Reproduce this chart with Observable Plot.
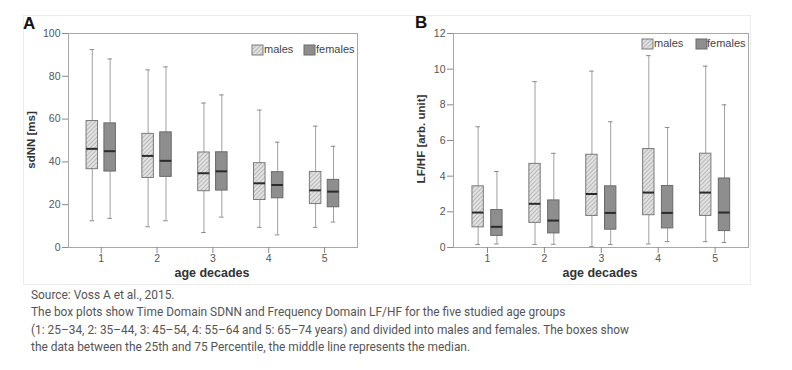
<!DOCTYPE html>
<html><head><meta charset="utf-8">
<script src="https://cdn.jsdelivr.net/npm/d3@7"></script>
<script src="https://cdn.jsdelivr.net/npm/@observablehq/plot@0.6"></script>
<style>
body{margin:0;background:#fff;}
#wrap{position:relative;width:792px;height:370px;overflow:hidden;font-family:"Liberation Sans",Arial,sans-serif;}
#fig{position:absolute;left:23px;top:15px;width:728px;height:270px;border:1px solid #ececec;box-sizing:border-box;}
.panel{position:absolute;top:15px;}
.letter{position:absolute;font-weight:bold;font-size:17px;line-height:17px;color:#111;}
#caption{position:absolute;left:31px;top:287px;font-family:Roboto,sans-serif;font-size:11.9px;line-height:17.3px;color:#555;white-space:nowrap;}
</style></head>
<body><div id="wrap">
<div id="fig"></div>
<div id="panelA" class="panel" style="left:23px"></div>
<div id="panelB" class="panel" style="left:408px"></div>
<div class="letter" style="left:23px;top:15px">A</div>
<div class="letter" style="left:415px;top:14px">B</div>
<div id="caption">Source: Voss A et al., 2015.<br>The box plots show Time Domain SDNN and Frequency Domain LF/HF for the five studied age groups<br>(1: 25–34, 2: 35–44, 3: 45–54, 4: 55–64 and 5: 65–74 years) and divided into males and females. The boxes show<br>the data between the 25th and 75 Percentile, the middle line represents the median.</div>
</div>
<script>
// age decades
const groups = [1, 2, 3, 4, 5];
const sexes = ["males", "females"];
// five-number summaries per group: [lower whisker, Q1, median, Q3, upper whisker]
const sdnnMales   = [[12.5,36.6,46.1,59.1,92.5],[9.7,32.5,42.8,53.1,83.0],[7.0,26.3,34.7,44.4,67.5],[9.4,22.2,30.0,39.4,64.2],[9.4,20.3,26.7,35.3,56.7]];
const sdnnFemales = [[13.6,35.5,45.0,58.0,88.1],[12.5,33.0,40.5,53.8,84.4],[14.2,26.6,35.6,44.5,71.3],[5.9,23.0,29.2,35.2,49.2],[11.9,18.8,26.1,31.6,47.3]];
const lfhfMales   = [[0.17,1.13,1.96,3.43,6.77],[0.17,1.38,2.45,4.69,9.30],[0.05,1.77,3.00,5.20,9.89],[0.20,1.81,3.08,5.52,10.76],[0.33,1.77,3.08,5.26,10.17]];
const lfhfFemales = [[0.20,0.65,1.16,2.10,4.26],[0.18,0.79,1.51,2.64,5.28],[0.17,1.00,1.94,3.43,7.05],[0.33,1.07,1.94,3.45,6.73],[0.28,0.92,1.96,3.87,8.00]];
const yTicksA = [0, 20, 40, 60, 80, 100];
const yTicksB = [0, 2, 4, 6, 8, 10, 12];

function rowsOf(males, females, off) {
  const out = [];
  [males, females].forEach((arr, si) => {
    arr.forEach((s, i) => {
      out.push({g: groups[i], sex: sexes[si], xc: groups[i] + (si === 0 ? -off : off),
        min: s[0], q1: s[1], med: s[2], q3: s[3], max: s[4]});
    });
  });
  return out;
}

const FONT = '"Liberation Sans", Arial, sans-serif';

function makePanel(cfg) {
  const rows = rowsOf(cfg.males, cfg.females, cfg.off);
  const hw = cfg.boxW / 2, cw = 0.04;
  const males = rows.filter(d => d.sex === "males");
  const females = rows.filter(d => d.sex === "females");
  const plot = Plot.plot({
    width: cfg.width, height: 268,
    marginLeft: 45, marginRight: cfg.marginRight, marginTop: 18, marginBottom: 36,
    style: {fontFamily: FONT, fontSize: "10.5px", color: "#555", background: "transparent"},
    x: {domain: cfg.xDomain, axis: null},
    y: {domain: cfg.yDomain, axis: null},
    marks: [
      Plot.ruleX(rows, {x: "xc", y1: "min", y2: "max", stroke: "#a0a0a0", strokeWidth: 1}),
      Plot.ruleY(rows, {y: "max", x1: d => d.xc - cw, x2: d => d.xc + cw, stroke: "#8a8a8a"}),
      Plot.ruleY(rows, {y: "min", x1: d => d.xc - cw, x2: d => d.xc + cw, stroke: "#8a8a8a"}),
      Plot.rect(males, {x1: d => d.xc - hw, x2: d => d.xc + hw, y1: "q1", y2: "q3", fill: `url(#${cfg.id}hatch)`, stroke: "#7a7a7a", strokeWidth: 1}),
      Plot.rect(females, {x1: d => d.xc - hw, x2: d => d.xc + hw, y1: "q1", y2: "q3", fill: "#8e8e8e", stroke: "#6a6a6a", strokeWidth: 1}),
      Plot.ruleY(rows, {y: "med", x1: d => d.xc - hw, x2: d => d.xc + hw, stroke: "#2b2b2b", strokeWidth: 2}),
      Plot.frame({stroke: "#a8a8a8"}),
      Plot.axisY({ticks: cfg.yTicks, tickSize: 6, tickPadding: 2, stroke: "#8a8a8a", fill: "#555", label: null}),
      Plot.axisX({ticks: groups, tickFormat: d3.format("d"), tickSize: 6, tickPadding: 1, stroke: "#8a8a8a", fill: "#555", label: null})
    ]
  });
  const svg = d3.select(plot);
  const defs = svg.insert("defs", ":first-child");
  const pat = defs.append("pattern").attr("id", cfg.id + "hatch").attr("patternUnits", "userSpaceOnUse")
    .attr("width", 3).attr("height", 3).attr("patternTransform", "rotate(45)");
  pat.append("rect").attr("width", 3).attr("height", 3).attr("fill", "#e2e2e2");
  pat.append("line").attr("x1", 0).attr("y1", 0).attr("x2", 0).attr("y2", 3).attr("stroke", "#9c9c9c").attr("stroke-width", 1.2);

  // axis titles
  svg.append("text").attr("transform", `translate(${cfg.yTitle[0]},${cfg.yTitle[1]}) rotate(-90)`)
    .attr("text-anchor", "middle").attr("dominant-baseline", "middle")
    .attr("font-weight", "bold").attr("font-size", 11.5).attr("fill", "#333").attr("font-family", FONT)
    .text(cfg.yLabel);
  svg.append("text").attr("x", cfg.xTitle[0]).attr("y", cfg.xTitle[1])
    .attr("text-anchor", "middle").attr("dominant-baseline", "middle")
    .attr("font-weight", "bold").attr("font-size", 12.5).attr("fill", "#333").attr("font-family", FONT)
    .text("age decades");

  // legend
  const lg = svg.append("g").attr("font-family", FONT).attr("font-size", 11).attr("fill", "#444")
    .attr("text-anchor", "start");
  const L = cfg.legend;
  lg.append("rect").attr("x", L.s1).attr("y", L.y - 5).attr("width", 11).attr("height", 10)
    .attr("fill", `url(#${cfg.id}hatch)`).attr("stroke", "#7a7a7a");
  lg.append("text").attr("x", L.t1).attr("y", L.y).attr("dominant-baseline", "middle").attr("text-anchor", "start").text(sexes[0]);
  lg.append("rect").attr("x", L.s2).attr("y", L.y - 5).attr("width", 11).attr("height", 10)
    .attr("fill", "#8e8e8e").attr("stroke", "#6a6a6a");
  lg.append("text").attr("x", L.t2).attr("y", L.y).attr("dominant-baseline", "middle").attr("text-anchor", "start").text(sexes[1]);

  document.getElementById(cfg.target).appendChild(plot);
}

makePanel({
  id: "a", target: "panelA", width: 372, marginRight: 38,
  xDomain: [0.414, 5.59], yDomain: [0, 100], yTicks: yTicksA,
  males: sdnnMales, females: sdnnFemales, off: 0.16, boxW: 0.206,
  yLabel: "sdNN [ms]", yTitle: [9, 125], xTitle: [189, 259],
  legend: {s1: 229, t1: 241, s2: 281, t2: 293, y: 35}
});
makePanel({
  id: "b", target: "panelB", width: 342, marginRight: 2,
  xDomain: [0.402, 5.587], yDomain: [0, 12], yTicks: yTicksB,
  males: lfhfMales, females: lfhfFemales, off: 0.165, boxW: 0.2,
  yLabel: "LF/HF [arb. unit]", yTitle: [14, 124], xTitle: [192, 259],
  legend: {s1: 234, t1: 246, s2: 288, t2: 299, y: 29}
});
</script>
</body></html>
